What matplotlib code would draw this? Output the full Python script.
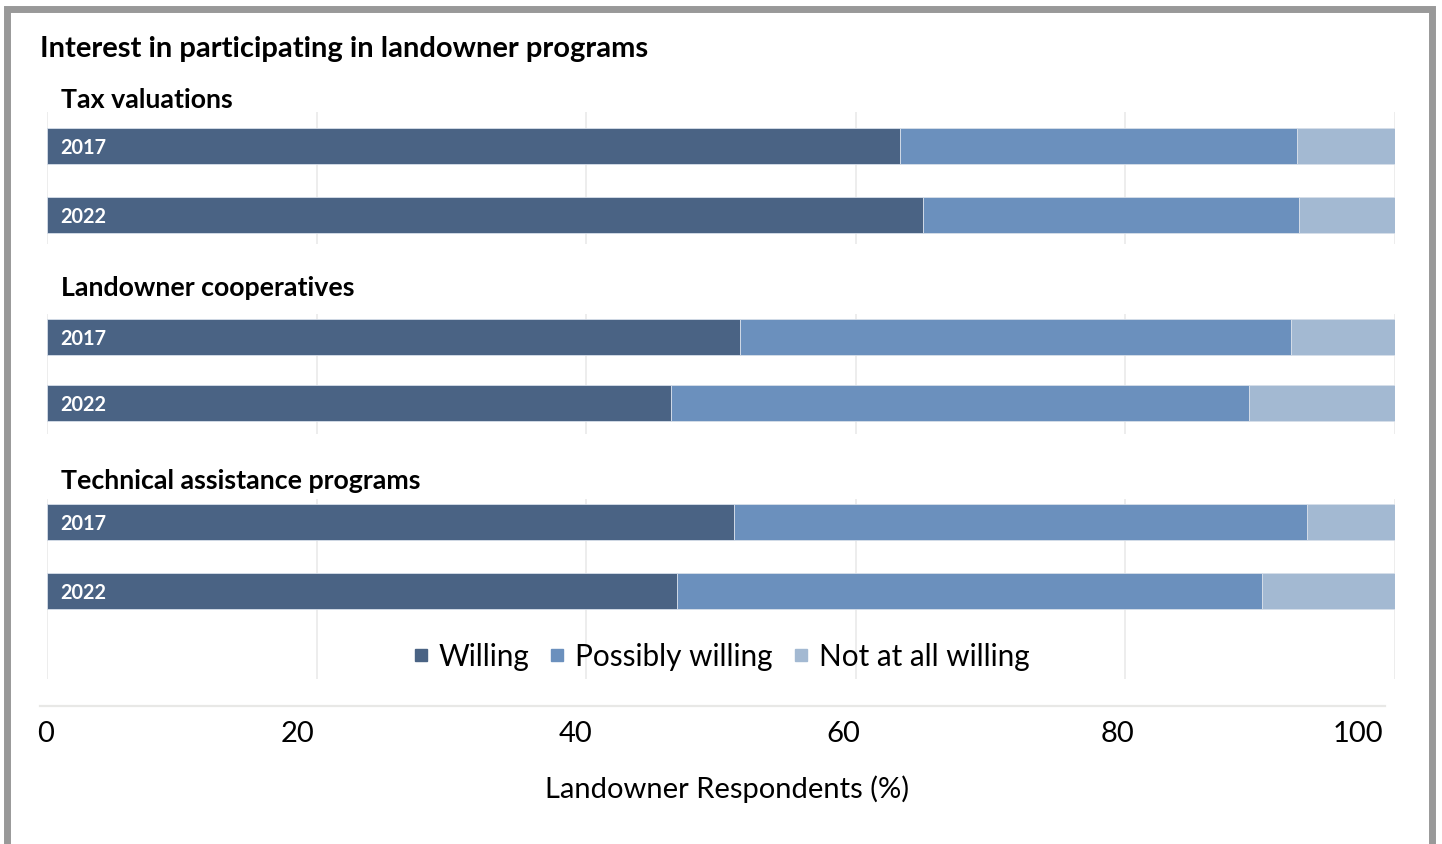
import matplotlib.pyplot as plt
from matplotlib.lines import Line2D
from matplotlib.patches import Rectangle

plt.rcParams['font.family'] = ['Lato', 'DejaVu Sans']

# Survey results (% of landowner respondents)
groups = ['Tax valuations', 'Landowner cooperatives', 'Technical assistance programs']
years = ['2017', '2022']
willing = [63.3, 65.0, 51.4, 46.3, 51.0, 46.7]
possibly = [29.4, 27.9, 40.9, 42.9, 42.5, 43.4]
not_willing = [7.3, 7.1, 7.7, 10.8, 6.5, 9.9]
series_names = ['Willing', 'Possibly willing', 'Not at all willing']
tick_labels = ['0', '20', '40', '60', '80', '100']

colors = ['#4a6384', '#6b90bd', '#a3b9d2']

W, H = 1442, 845
fig = plt.figure(figsize=(W / 100, H / 100), dpi=100)

# layout in pixel rows (top of figure = 0)
bar_rows = [147, 216, 338, 404, 523, 592]
bar_h = 36
panel_spans = [(113, 245), (315, 435), (500, 680)]
group_label_rows = [100, 288, 481]

x0, x1 = 47, 1395
ax = fig.add_axes([x0 / W, 0, (x1 - x0) / W, 1])
ax.set_xlim(0, 100)
ax.set_ylim(H, 0)
ax.axis('off')

# light vertical gridlines, one block per panel
for top, bottom in panel_spans:
    ax.vlines([0, 20, 40, 60, 80, 100], top, bottom, color='#ececec', lw=1.3, zorder=0)

# stacked bars
left = [0] * len(willing)
for vals, c in zip([willing, possibly, not_willing], colors):
    ax.barh(bar_rows, vals, left=left, height=bar_h, color=c,
            edgecolor='#d7dfea', linewidth=0.6, zorder=2)
    left = [l + v for l, v in zip(left, vals)]

# year labels inside bars
for i, y in enumerate(bar_rows):
    ax.text(1.0, y + 1, years[i % 2], color='white', fontsize=14.3, fontweight='bold',
            va='center', ha='left', zorder=3)

# title and group headings
fig.text(40 / W, 1 - 49 / H, 'Interest in participating in landowner programs',
         fontsize=21, fontweight='bold', va='center', ha='left')
for g, y in zip(groups, group_label_rows):
    fig.text(61 / W, 1 - y / H, g, fontsize=19.3, fontweight='bold', va='center', ha='left')

# legend
handles = [Line2D([], [], marker='s', linestyle='none', markersize=9,
                  markerfacecolor=c, markeredgecolor=c) for c in colors]
fig.legend(handles, series_names, loc='center', bbox_to_anchor=(719 / W, 1 - 657 / H),
           ncol=3, frameon=False, fontsize=21.4, handletextpad=0.2,
           columnspacing=0.55, handlelength=0.8)

# axis line and tick labels
fig.add_artist(Line2D([40 / W, 1385 / W], [1 - 707 / H, 1 - 707 / H],
                      color='#e8e8e6', lw=1.6))
tick_px = [46, 298, 576, 843, 1118, 1358]
for t, px in zip(tick_labels, tick_px):
    fig.text(px / W, 1 - 734 / H, t, fontsize=21, ha='center', va='center')
fig.text(727 / W, 1 - 789 / H, 'Landowner Respondents (%)', fontsize=21,
         ha='center', va='center')

# outer frame
fig.add_artist(Rectangle((7 / W, -0.05), (1432 - 7) / W, 1.05 - 10 / H,
                         transform=fig.transFigure, fill=False,
                         edgecolor='#999999', lw=5))

fig.savefig('out.png', dpi=100)
